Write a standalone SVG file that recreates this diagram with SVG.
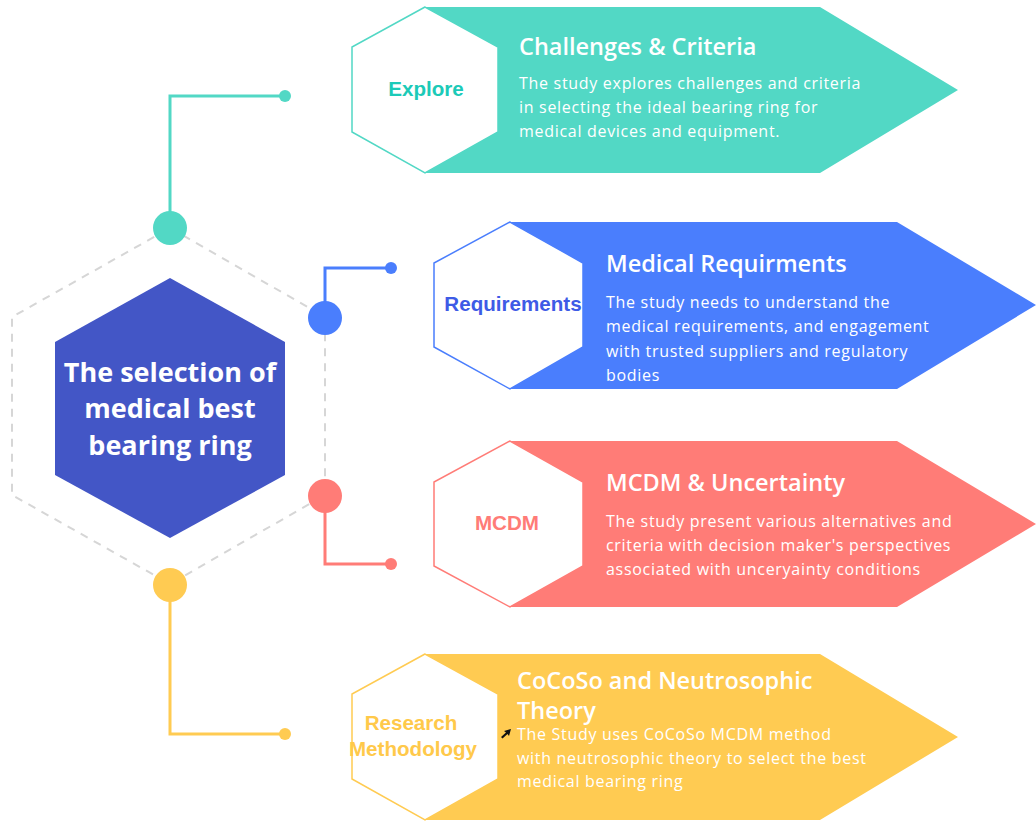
<svg xmlns="http://www.w3.org/2000/svg" width="1036" height="821" viewBox="0 0 1036 821">
<style>
.title{font-family:"Open Sans","Noto Sans",sans-serif;font-weight:600;font-size:23.5px;fill:#fff}
.desc{font-family:"Open Sans","Noto Sans",sans-serif;font-size:16px;letter-spacing:0.7px;fill:#fff}
.lbl{font-family:"Liberation Sans",Arial,sans-serif;font-weight:bold;font-size:20.6px;text-anchor:middle}
.center{font-family:"Open Sans","Noto Sans",sans-serif;font-weight:bold;font-size:27px;fill:#fff;text-anchor:middle}
.conn{fill:none;stroke-width:3}
</style>
<rect width="1036" height="821" fill="#fff"/>
<g id="connectors">
<polygon points="170,228 325,317 325,495 170,584 12,495 12,317" fill="none" stroke="#D6D6D6" stroke-width="2" stroke-dasharray="8 7"/>
<polyline class="conn" points="170,228 170,96 285,96" stroke="#52D8C5"/>
<circle cx="285" cy="96" r="6" fill="#52D8C5"/>
<circle cx="170" cy="228" r="17" fill="#52D8C5"/>
<polyline class="conn" points="325,318 325,268 391,268" stroke="#4A7EFD"/>
<circle cx="391" cy="268" r="6" fill="#4A7EFD"/>
<circle cx="325" cy="318" r="17" fill="#4A7EFD"/>
<polyline class="conn" points="325,496 325,564 391,564" stroke="#FF7C77"/>
<circle cx="391" cy="564" r="6" fill="#FF7C77"/>
<circle cx="325" cy="496" r="17" fill="#FF7C77"/>
<polyline class="conn" points="170,585 170,734 285,734" stroke="#FFCB52"/>
<circle cx="285" cy="734" r="6" fill="#FFCB52"/>
<circle cx="170" cy="585" r="17" fill="#FFCB52"/>
</g>
<g id="center">
<polygon points="170,278 285,342 285,475 170,538 55,475 55,342" fill="#4356C6"/>
<text class="center" x="170" y="382">The selection of</text>
<text class="center" x="170" y="418">medical best</text>
<text class="center" x="170" y="455">bearing ring</text>
</g>
<g id="explore">
<polygon points="425,7 352,47 352,132 425,173 498,132 498,47" fill="#fff" stroke="#52D8C5" stroke-width="1.5"/>
<polygon points="425,7 820,7 958,90 820,173 425,173 498,132 498,47" fill="#52D8C5"/>
<text class="lbl" x="426" y="96" fill="#1CCAB8">Explore</text>
<text class="title" x="519" y="55">Challenges &amp; Criteria</text>
<text class="desc" x="519" y="89">The study explores challenges and criteria</text>
<text class="desc" x="519" y="113">in selecting the ideal bearing ring for</text>
<text class="desc" x="519" y="137">medical devices and equipment.</text>
</g>
<g id="requirements">
<polygon points="510,222 434,263 434,347 510,389 583,347 583,263" fill="#fff" stroke="#4A7EFD" stroke-width="1.5"/>
<polygon points="510,222 897,222 1036,305 897,389 510,389 583,347 583,263" fill="#4A7EFD"/>
<text class="lbl" x="513" y="311" fill="#3E5BE6">Requirements</text>
<text class="title" x="606" y="272">Medical Requirments</text>
<text class="desc" x="606" y="308">The study needs to understand the</text>
<text class="desc" x="606" y="332">medical requirements, and engagement</text>
<text class="desc" x="606" y="357">with trusted suppliers and regulatory</text>
<text class="desc" x="606" y="381">bodies</text>
</g>
<g id="mcdm">
<polygon points="510,441 434,482 434,566 510,607 583,566 583,482" fill="#fff" stroke="#FF7C77" stroke-width="1.5"/>
<polygon points="510,441 897,441 1036,524 897,607 510,607 583,566 583,482" fill="#FF7C77"/>
<text class="lbl" x="507" y="530" fill="#FF7C77">MCDM</text>
<text class="title" x="606" y="491">MCDM &amp; Uncertainty</text>
<text class="desc" x="606" y="527">The study present various alternatives and</text>
<text class="desc" x="606" y="551">criteria with decision maker's perspectives</text>
<text class="desc" x="606" y="575">associated with unceryainty conditions</text>
</g>
<g id="research">
<polygon points="425,654 352,694 352,779 425,820 498,779 498,694" fill="#fff" stroke="#FFCB52" stroke-width="1.5"/>
<polygon points="425,654 820,654 958,737 820,820 425,820 498,779 498,694" fill="#FFCB52"/>
<text class="lbl" x="411" y="730" fill="#FFC94A">Research</text>
<text class="lbl" x="413" y="756" fill="#FFC94A">Methodology</text>
<text class="title" x="517" y="689">CoCoSo and Neutrosophic</text>
<text class="title" x="517" y="719">Theory</text>
<text class="desc" x="517" y="740">The Study uses CoCoSo MCDM method</text>
<text class="desc" x="517" y="764">with neutrosophic theory to select the best</text>
<text class="desc" x="517" y="787">medical bearing ring</text>
<polygon points="511,729 504,731 506,732.5 501,737 502.5,738.5 507.5,734 509,736" fill="#111"/>
</g>
</svg>
